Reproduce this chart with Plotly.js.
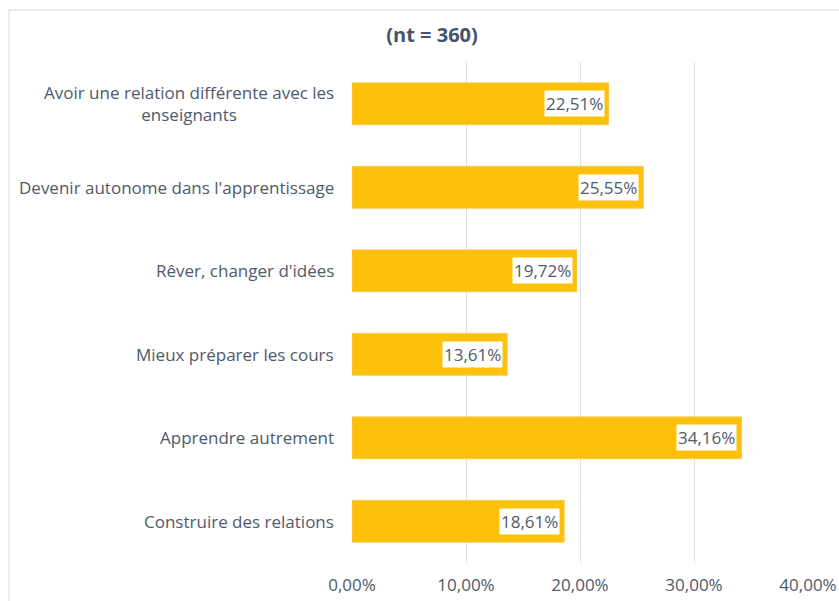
<!DOCTYPE html>
<html>
<head>
<meta charset="utf-8">
<script src="https://cdn.plot.ly/plotly-3.0.1.min.js"></script>
<style>
html,body{margin:0;padding:0;background:#fff;}
#chart{width:839px;height:601px;}
</style>
</head>
<body>
<div id="chart"></div>
<script>
const categories = [
  "Avoir une relation différente avec les<br>enseignants",
  "Devenir autonome dans l'apprentissage",
  "Rêver, changer d'idées",
  "Mieux préparer les cours",
  "Apprendre autrement",
  "Construire des relations"
];
const values = [0.2251, 0.2555, 0.1972, 0.1361, 0.3416, 0.1861];
const valueLabels = ["22,51%", "25,55%", "19,72%", "13,61%", "34,16%", "18,61%"];
const tickVals = [0, 0.1, 0.2, 0.3, 0.4];
const tickText = ["0,00%", "10,00%", "20,00%", "30,00%", "40,00%"];

const textColor = "#4F5A6B";
const font = "'Open Sans', sans-serif";
const fs = 17;

const traces = [
  {
    type: "bar", orientation: "h", x: values, y: categories,
    width: 0.5,
    marker: {color: "#FDC10A", line: {color: "#F5C84E", width: 1}},
    hoverinfo: "skip"
  }
];

const valueAnn = values.map((v, i) => ({
  x: v, y: categories[i], xref: "x", yref: "y",
  text: valueLabels[i], showarrow: false,
  xanchor: "right", xshift: -4,
  bgcolor: "#FFFFFF", borderpad: 1,
  font: {family: font, size: fs, color: textColor}
}));

const catAnn = categories.map((c) => ({
  x: 0, y: c, xref: "paper", yref: "y",
  text: c, showarrow: false,
  xanchor: "right", xshift: -16, align: "center",
  font: {family: font, size: fs, color: textColor}
}));

const layout = {
  width: 839, height: 601,
  margin: {l: 352, r: 31, t: 62, b: 38},
  paper_bgcolor: "#FFFFFF", plot_bgcolor: "#FFFFFF",
  showlegend: false,
  title: {
    text: "<b>(nt = 360)</b>",
    font: {family: font, size: 20, color: "#44546A"},
    x: 0.515, xanchor: "center", y: 0.942, yanchor: "middle"
  },
  xaxis: {
    range: [0, 0.4], tickvals: tickVals, ticktext: tickText,
    showgrid: true, gridcolor: "#DCE1E9", gridwidth: 1,
    zeroline: false, showline: false, ticks: "",
    ticklabelstandoff: 10,
    tickfont: {family: font, size: fs, color: textColor},
    fixedrange: true
  },
  yaxis: {
    type: "category", autorange: "reversed",
    showgrid: false, zeroline: false, showline: false, ticks: "",
    showticklabels: false,
    fixedrange: true
  },
  annotations: valueAnn.concat(catAnn),
  shapes: [
    {type: "line", xref: "paper", yref: "paper",
     x0: (9 - 352) / 456, x1: (839 - 352) / 456 + 0.01,
     y0: (601 - 10 - 38) / 501, y1: (601 - 10 - 38) / 501,
     line: {color: "#D9D9D9", width: 1}},
    {type: "line", xref: "paper", yref: "paper",
     x0: (9 - 352) / 456, x1: (9 - 352) / 456,
     y0: (601 - 10 - 38) / 501, y1: -0.1,
     line: {color: "#D9D9D9", width: 1}}
  ]
};

Plotly.newPlot("chart", traces, layout, {displayModeBar: false, staticPlot: true});
</script>
</body>
</html>
